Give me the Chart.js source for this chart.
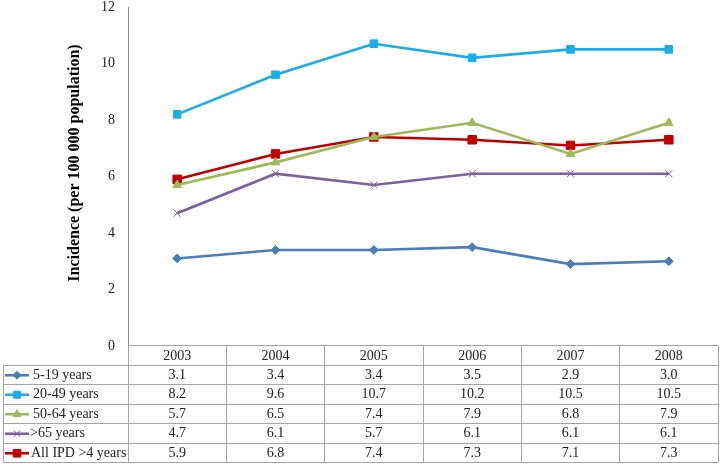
<!DOCTYPE html>
<html>
<head>
<meta charset="utf-8">
<script src="https://cdn.jsdelivr.net/npm/chart.js@4"></script>
<style>
  html, body { margin: 0; padding: 0; background: #fff; }
  #wrap { width: 720px; height: 464px; position: relative; }
</style>
</head>
<body>
<div id="wrap"><canvas id="c" width="720" height="464"></canvas></div>
<script>
// ---- data ----
const years = ['2003', '2004', '2005', '2006', '2007', '2008'];
const seriesNames = ['5-19 years', '20-49 years', '50-64 years', '>65 years', 'All IPD >4 years'];
const age5to19 = [3.1, 3.4, 3.4, 3.5, 2.9, 3.0];
const age20to49 = [8.2, 9.6, 10.7, 10.2, 10.5, 10.5];
const age50to64 = [5.7, 6.5, 7.4, 7.9, 6.8, 7.9];
const age65plus = [4.7, 6.1, 5.7, 6.1, 6.1, 6.1];
const allIPD = [5.9, 6.8, 7.4, 7.3, 7.1, 7.3];
const yTicks = [0, 2, 4, 6, 8, 10, 12];
const yTitle = 'Incidence (per 100 000 population)';

// ---- styles ----
const styles = [
  { color: '#4A7EBB', pointStyle: 'rectRot', radius: 4.4, pbw: 1 },
  { color: '#1AADE6', pointStyle: 'rect', radius: 5.4, pbw: 1 },
  { color: '#9BBB59', pointStyle: 'triangle', radius: 5, pbw: 1 },
  { color: '#7D60A0', pointStyle: 'crossRot', radius: 5, pbw: 1 },
  { color: '#C00000', pointStyle: 'rect', radius: 6, pbw: 1 }
];
const allSeries = [age5to19, age20to49, age50to64, age65plus, allIPD];
const serif = '"Liberation Serif", "Times New Roman", serif';
const textColor = '#222222';
const gridColor = '#A6A6A6';

const datasets = allSeries.map((d, i) => ({
  label: seriesNames[i],
  data: d,
  borderColor: styles[i].color,
  backgroundColor: styles[i].color,
  pointBackgroundColor: styles[i].color,
  pointBorderColor: styles[i].color,
  pointStyle: styles[i].pointStyle,
  pointRadius: styles[i].radius,
  pointBorderWidth: styles[i].pbw,
  borderWidth: 2.6,
  tension: 0,
  fill: false,
  clip: false
}));

const tablePlugin = {
  id: 'dataTable',
  afterDraw(chart) {
    const ctx = chart.ctx;
    const xs = chart.scales.x;
    const area = chart.chartArea;
    const n = years.length;
    const colW = (area.right - area.left) / n;
    const top = Math.round(area.bottom) - 0.5;
    const rowH = 19.5;
    const legendLeft = 3.5;
    const rows = allSeries.length;
    const bottom = top + rowH * (rows + 1);
    ctx.save();
    ctx.strokeStyle = gridColor;
    ctx.lineWidth = 1;
    ctx.beginPath();
    ctx.moveTo(area.left, top);
    ctx.lineTo(area.right, top);
    for (let r = 1; r <= rows + 1; r++) {
      const y = Math.round(top + rowH * r - 0.5) + 0.5;
      ctx.moveTo(legendLeft, y);
      ctx.lineTo(area.right, y);
    }
    for (let c = 0; c <= n; c++) {
      const x = Math.round(area.left + colW * c - 0.5) + 0.5;
      ctx.moveTo(x, top);
      ctx.lineTo(x, Math.round(bottom - 0.5) + 0.5);
    }
    const y1 = Math.round(top + rowH - 0.5) + 0.5;
    ctx.moveTo(legendLeft, y1);
    ctx.lineTo(legendLeft, Math.round(bottom - 0.5) + 0.5);
    ctx.stroke();

    ctx.font = '14px ' + serif;
    ctx.fillStyle = textColor;
    ctx.textAlign = 'center';
    ctx.textBaseline = 'middle';
    allSeries.forEach((d, r) => {
      const yc = top + rowH * (r + 1) + rowH / 2 + 0.5;
      d.forEach((v, c) => {
        ctx.fillText(v.toFixed(1), xs.getPixelForValue(c), yc);
      });
    });

    const textX = [33, 33, 33, 30, 31];
    allSeries.forEach((d, r) => {
      const yc = top + rowH * (r + 1) + rowH / 2 + 0.5;
      const st = styles[r];
      ctx.strokeStyle = st.color;
      ctx.fillStyle = st.color;
      ctx.lineWidth = 2.6;
      ctx.beginPath();
      ctx.moveTo(5, yc);
      ctx.lineTo(29, yc);
      ctx.stroke();
      ctx.lineWidth = st.pbw;
      Chart.helpers.drawPoint(ctx, {
        pointStyle: st.pointStyle,
        radius: st.radius * 0.9,
        rotation: 0,
        borderWidth: st.pbw
      }, 17, yc);
      ctx.fillStyle = textColor;
      ctx.textAlign = 'left';
      ctx.fillText(seriesNames[r], textX[r], yc);
    });

    ctx.save();
    ctx.translate(75, 163);
    ctx.rotate(-Math.PI / 2);
    ctx.font = 'bold 16px ' + serif;
    ctx.fillStyle = '#000';
    ctx.textAlign = 'center';
    ctx.textBaseline = 'middle';
    ctx.fillText(yTitle, 0, 0);
    ctx.restore();
    ctx.restore();
  }
};

new Chart(document.getElementById('c'), {
  type: 'line',
  data: { labels: years, datasets: datasets },
  plugins: [tablePlugin],
  options: {
    responsive: false,
    animation: false,
    devicePixelRatio: 1,
    layout: { autoPadding: false, padding: { top: 7, right: 2, bottom: 0, left: 0 } },
    plugins: {
      legend: { display: false },
      tooltip: { enabled: false },
      title: { display: false }
    },
    scales: {
      x: {
        type: 'category',
        offset: true,
        grid: { display: false, drawTicks: false },
        border: { display: false },
        ticks: {
          font: { family: serif, size: 14 },
          color: textColor,
          padding: 2,
          maxRotation: 0,
          autoSkip: false
        },
        afterFit(scale) {
          scale.height = 118;
          scale.paddingLeft = 0;
          scale.paddingRight = 0;
        }
      },
      y: {
        min: 0,
        max: 12,
        afterBuildTicks(scale) { scale.ticks = yTicks.map(v => ({ value: v })); },
        grid: { display: false, drawTicks: false },
        border: { display: true, color: '#8C8C8C', width: 1 },
        ticks: {
          font: { family: serif, size: 14 },
          color: textColor,
          padding: 13
        },
        afterFit(scale) {
          scale.width = 128;
          scale.paddingTop = 0;
          scale.paddingBottom = 0;
        }
      }
    }
  }
});
</script>
</body>
</html>
